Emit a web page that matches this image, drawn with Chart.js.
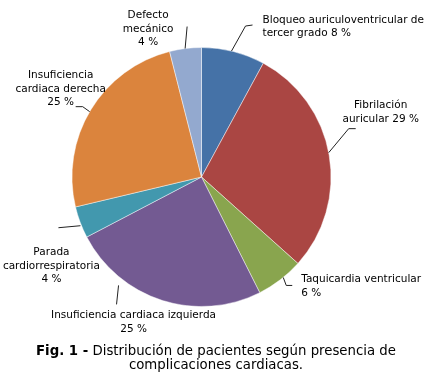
<!DOCTYPE html>
<html>
<head>
<meta charset="utf-8">
<script src="https://cdn.jsdelivr.net/npm/chart.js@4"></script>
<style>
  body { margin: 0; background: #fff; }
  #wrap { position: relative; width: 432px; height: 376px; }
  #caption {
    position: absolute; left: 0; top: 344px; width: 432px;
    text-align: center; font: 13.3px "DejaVu Sans", sans-serif;
    line-height: 14px; color: #000;
  }
</style>
</head>
<body>
<div id="wrap">
  <canvas id="pie" width="432" height="376"></canvas>
  <div id="caption"><b>Fig. 1 -</b> Distribución de pacientes según presencia de<br>complicaciones cardiacas.</div>
</div>
<script>
// categories and values (%)
const labels = [
	['Bloqueo auriculoventricular de', 'tercer grado 8 %'],
	['Fibrilación', 'auricular 29 %'],
	['Taquicardia ventricular', '6 %'],
	['Insuficiencia cardiaca izquierda', '25 %'],
	['Parada', 'cardiorrespiratoria', '4 %'],
	['Insuficiencia', 'cardiaca derecha', '25 %'],
	['Defecto', 'mecánico', '4 %'],
];
const values = [8, 29, 6, 25, 4, 25, 4];
const colors = ['#4572a7', '#aa4643', '#89a54e', '#735a92', '#4298ae', '#db843d', '#93a9cf'];

// where each label sits relative to its slice (style only)
// frac: position along the slice, gap: distance from edge,
// line: leader points from the start, text: offset + align
const labelPos = [
	{frac: 0.47, gap: 0, line: [[14, -25], [21, -26]], text: [31, -31], align: 'left'},
	{frac: 0.49, gap: 0, line: [[20, -24], [27, -24]], text: [52, -47], align: 'center'},
	{frac: 0.42, gap: 0, line: [[3, 8], [9, 8]], text: [18, 2], align: 'left'},
	{frac: 0.72, gap: 7, line: [[-2, 19]], text: [15, 30], align: 'center'},
	{frac: 0.40, gap: 1, line: [[-22, 2]], text: [-29, 27], align: 'center'},
	{frac: 0.49, gap: 0, line: [[-7, -5], [-14, -5]], text: [-29, -36], align: 'center'},
	{frac: 0.49, gap: 0, line: [[2, -22]], text: [-37, -33], align: 'center'},
];

const sliceLabels = {
	id: 'sliceLabels',
	afterDatasetsDraw(chart) {
		const ctx = chart.ctx;
		const arcs = chart.getDatasetMeta(0).data;
		ctx.save();
		ctx.font = '10.5px "DejaVu Sans", sans-serif';
		ctx.fillStyle = '#000';
		ctx.strokeStyle = '#222';
		ctx.lineWidth = 1;
		ctx.textBaseline = 'middle';
		arcs.forEach((arc, i) => {
			const p = arc.getProps(['x', 'y', 'startAngle', 'endAngle', 'outerRadius'], true);
			const pos = labelPos[i];
			const a = p.startAngle + pos.frac * (p.endAngle - p.startAngle);
			const r = p.outerRadius + pos.gap;
			const x0 = p.x + Math.cos(a) * r;
			const y0 = p.y + Math.sin(a) * r;
			ctx.beginPath();
			ctx.moveTo(x0, y0);
			pos.line.forEach(pt => ctx.lineTo(x0 + pt[0], y0 + pt[1]));
			ctx.stroke();
			ctx.textAlign = pos.align;
			labels[i].forEach((txt, k) => {
				ctx.fillText(txt, x0 + pos.text[0], y0 + pos.text[1] + k * 13.5);
			});
		});
		ctx.restore();
	}
};

const config_pie = {
	type: 'pie',
	data: {
		labels: labels.map(l => l.join(' ')),
		datasets: [{
			data: values,
			backgroundColor: colors,
			borderColor: 'rgba(255,255,255,0.45)',
			borderWidth: 1,
		}]
	},
	options: {
		responsive: false,
		animation: false,
		events: [],
		layout: {
			padding: {left: 71.5, right: 100.5, top: 47, bottom: 69}
		},
		plugins: {
			legend: {display: false},
			tooltip: {enabled: false},
			title: {display: false}
		}
	},
	plugins: [sliceLabels]
};

const pie = new Chart(document.getElementById('pie'), config_pie);
</script>
</body>
</html>
